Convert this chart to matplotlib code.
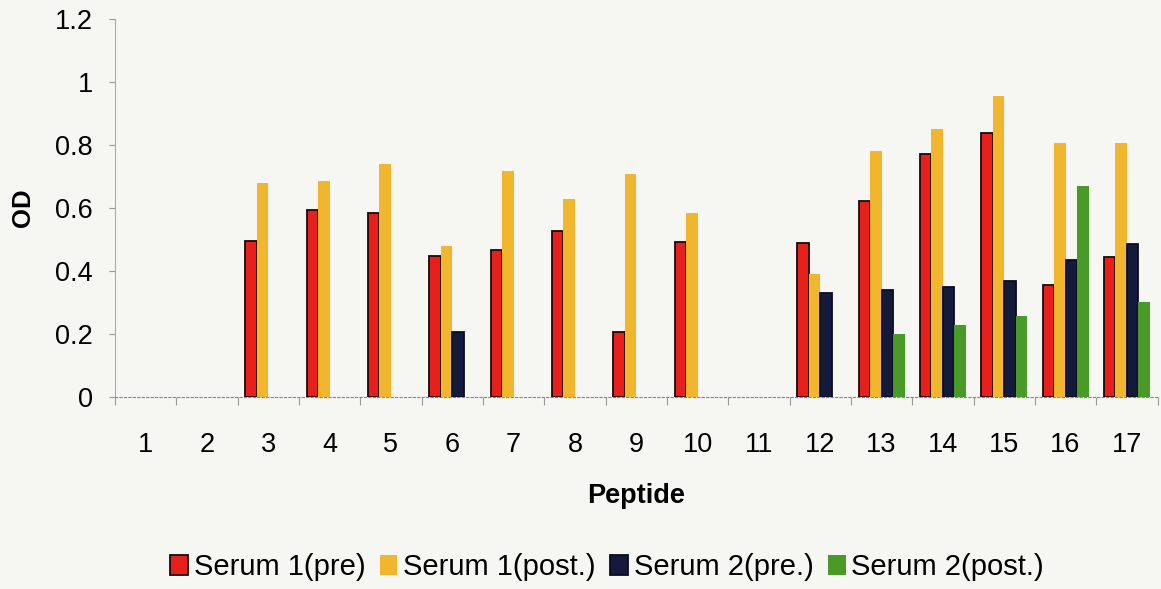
import numpy as np
import matplotlib
matplotlib.use("Agg")
import matplotlib.pyplot as plt

plt.rcParams['font.family'] = ['Liberation Sans', 'DejaVu Sans']

peptides = [str(i) for i in range(1, 18)]
nan = np.nan
serum1_pre = [nan, nan, 0.495, 0.594, 0.585, 0.446, 0.465, 0.526, 0.205, 0.493, nan,
              0.488, 0.621, 0.771, 0.838, 0.354, 0.443]
serum1_post = [nan, nan, 0.678, 0.687, 0.740, 0.478, 0.718, 0.627, 0.708, 0.585, nan,
               0.391, 0.782, 0.850, 0.955, 0.806, 0.806]
serum2_pre = [nan, nan, nan, nan, nan, 0.207, nan, nan, nan, nan, nan,
              0.330, 0.339, 0.349, 0.367, 0.435, 0.484]
serum2_post = [nan, nan, nan, nan, nan, nan, nan, nan, nan, nan, nan,
               nan, 0.200, 0.228, 0.256, 0.668, 0.302]
series_names = ['Serum 1(pre)', 'Serum 1(post.)', 'Serum 2(pre.)', 'Serum 2(post.)']
yticks = [0, 0.2, 0.4, 0.6, 0.8, 1.0, 1.2]
ytick_labels = ['0', '0.2', '0.4', '0.6', '0.8', '1', '1.2']

colors = ['#E8201C', '#F2B52E', '#141A3C', '#4A9A28']
edges = ['#1a0a0a', '#F2B52E', '#0a0d20', '#4A9A28']
bg = '#F6F7F3'

fig = plt.figure(figsize=(11.61, 5.89), dpi=100, facecolor=bg)
ax = fig.add_axes([0.099, 0.326, 0.898, 0.642], facecolor=bg)

x = np.arange(len(peptides))
w = 0.1875
data = [serum1_pre, serum1_post, serum2_pre, serum2_post]
handles = []
for i, (vals, c, ec, name) in enumerate(zip(data, colors, edges, series_names)):
    lw = 1.3 if i in (0, 2) else 0
    b = ax.bar(x + (i - 1.5) * w, np.array(vals, dtype=float), width=w, color=c,
               edgecolor=ec, linewidth=lw, label=name, zorder=3)
    handles.append(b)

fs = 19.5
ax.set_xlim(-0.5, len(peptides) - 0.5)
ax.set_ylim(0, 1.2)
ax.set_yticks(yticks)
ax.set_yticklabels(ytick_labels, fontsize=fs)
ax.set_xticks(x)
ax.set_xticklabels(peptides, fontsize=fs)
ax.set_xticks(np.arange(-0.5, len(peptides)), minor=True)
ax.tick_params(axis='x', which='major', length=0, pad=25)
ax.tick_params(axis='x', which='minor', length=6, color='#999999', width=0.8)
ax.tick_params(axis='y', length=4, color='#999999', width=0.8, pad=12)

for s in ['top', 'right']:
    ax.spines[s].set_visible(False)
ax.spines['left'].set_color('#aaaaaa')
ax.spines['left'].set_linewidth(0.8)
ax.spines['bottom'].set_color('#888888')
ax.spines['bottom'].set_linestyle((0, (2, 2)))
ax.spines['bottom'].set_linewidth(0.8)

ax.set_xlabel('Peptide', fontsize=fs, fontweight='bold', labelpad=18)
ax.set_ylabel('OD', fontsize=fs - 1, fontweight='bold', labelpad=14)

fig.legend(handles=handles, labels=series_names, loc='center', bbox_to_anchor=(0.523, 0.037),
           ncol=4, frameon=False, fontsize=21, handlelength=0.6, handleheight=0.65,
           handletextpad=0.2, columnspacing=0.5)

fig.savefig('out.png', dpi=100, facecolor=bg)
